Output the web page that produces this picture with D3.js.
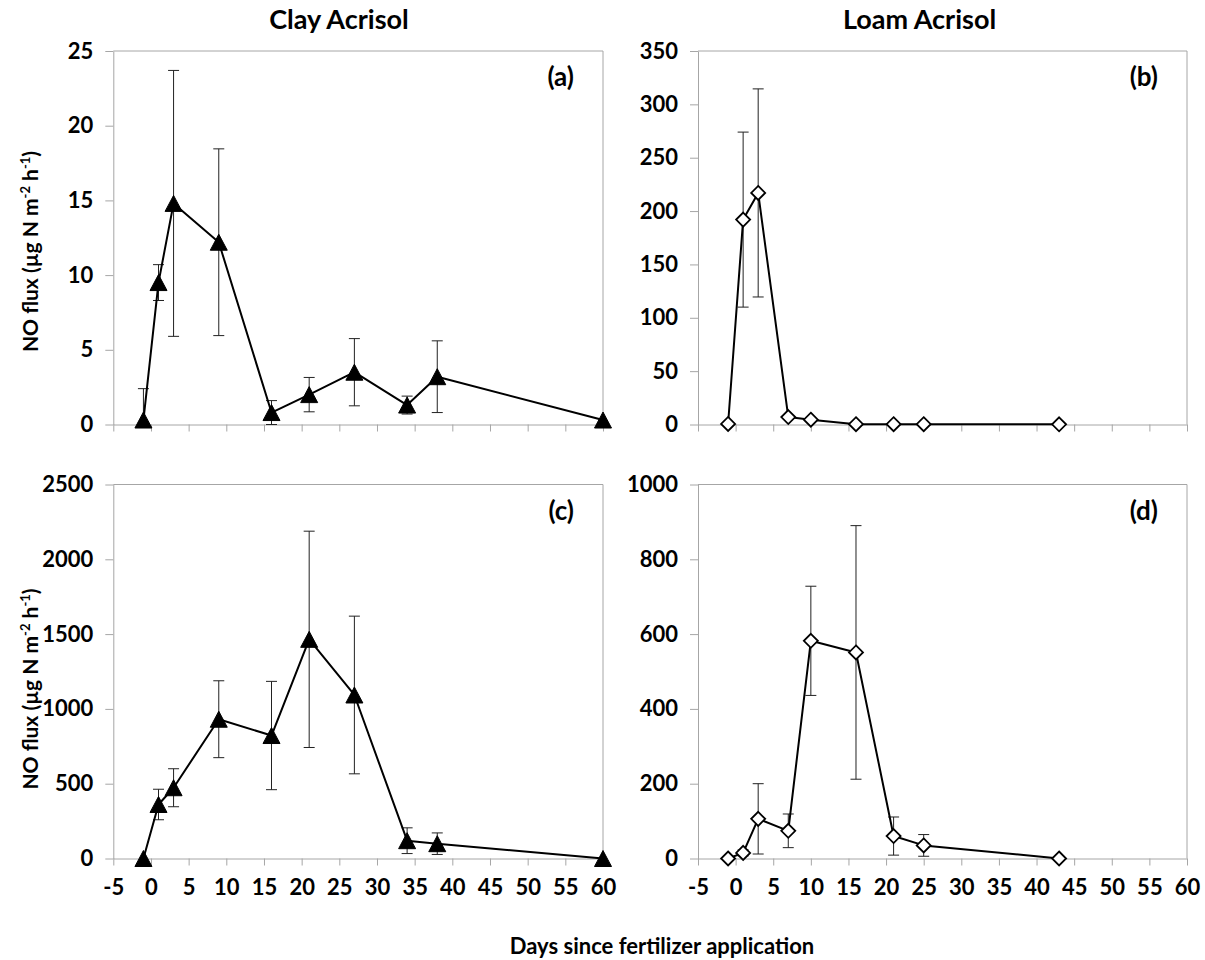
<!DOCTYPE html>
<html>
<head>
<meta charset="utf-8">
<script src="https://cdn.jsdelivr.net/npm/d3@7"></script>
<style>
  body { margin: 0; background: #fff; }
  svg { display: block; }
  text { font-family: Lato, "Open Sans", sans-serif; font-weight: 700; fill: #000; }
</style>
</head>
<body>
<svg id="chart" width="1205" height="960"></svg>
<script>
// Sampling days (days since fertilizer application)
const daysClay = [-1, 1, 3, 9, 16, 21, 27, 34, 38, 60];
const daysLoam = [-1, 1, 3, 7, 10, 16, 21, 25, 43];

// (a) Clay Acrisol, NO flux, first season
const fluxA = [0.3, 9.5, 14.8, 12.2, 0.8, 2.0, 3.5, 1.3, 3.2, 0.3];
const sdA   = [2.1, 1.2, 8.9, 6.25, 0.8, 1.15, 2.25, 0.6, 2.4, 0];

// (b) Loam Acrisol, NO flux, first season
const fluxB = [0.5, 192, 217, 7, 4.5, 0.3, 0.3, 0.3, 0.2];
const sdB   = [0, 82, 97.5, 0, 0, 0, 0, 0, 0];

// (c) Clay Acrisol, NO flux, second season
const fluxC = [0, 361, 473, 931, 822, 1465, 1093, 119, 99, 0];
const sdC   = [0, 102, 127, 257, 362, 723, 527, 86, 72, 0];

// (d) Loam Acrisol, NO flux, second season
const fluxD = [0, 15, 106, 74, 582, 551, 60, 35, 0];
const sdD   = [0, 8, 94, 45, 146, 339, 51, 29, 0];

// Tick labels
const dayTicks = [-5, 0, 5, 10, 15, 20, 25, 30, 35, 40, 45, 50, 55, 60];
const yTicksA = [0, 5, 10, 15, 20, 25];
const yTicksB = [0, 50, 100, 150, 200, 250, 300, 350];
const yTicksC = [0, 500, 1000, 1500, 2000, 2500];
const yTicksD = [0, 200, 400, 600, 800, 1000];

const columnTitles = ["Clay Acrisol", "Loam Acrisol"];
const panelLabels = ["(a)", "(b)", "(c)", "(d)"];
const xTitle = "Days since fertilizer application";

const svg = d3.select("#chart");
const AXIS = "#a6a6a6";
const plainNum = d => String(d);   // keeps the ASCII hyphen for negatives

// Custom marker shapes, centred on their bounding box
const triangleSym = {
  draw(ctx) {
    const w = 17, h = 16;
    ctx.moveTo(0, -h / 2);
    ctx.lineTo(w / 2, h / 2);
    ctx.lineTo(-w / 2, h / 2);
    ctx.closePath();
  }
};
const diamondSym = {
  draw(ctx) {
    const r = 7;
    ctx.moveTo(0, -r);
    ctx.lineTo(r, 0);
    ctx.lineTo(0, r);
    ctx.lineTo(-r, 0);
    ctx.closePath();
  }
};

const panels = [
  { left: 113.3, right: 603,  top: 51,    bottom: 424.5, days: daysClay, flux: fluxA, sd: sdA, yTicks: yTicksA, sym: "tri", xLabels: false, label: panelLabels[0] },
  { left: 698,   right: 1187, top: 51,    bottom: 424.5, days: daysLoam, flux: fluxB, sd: sdB, yTicks: yTicksB, sym: "dia", xLabels: false, label: panelLabels[1] },
  { left: 113.3, right: 603,  top: 484.5, bottom: 858.5, days: daysClay, flux: fluxC, sd: sdC, yTicks: yTicksC, sym: "tri", xLabels: true,  label: panelLabels[2] },
  { left: 698,   right: 1187, top: 484.5, bottom: 858.5, days: daysLoam, flux: fluxD, sd: sdD, yTicks: yTicksD, sym: "dia", xLabels: true,  label: panelLabels[3] }
];

panels.forEach(p => {
  const x = d3.scaleLinear().domain([dayTicks[0], dayTicks[dayTicks.length - 1]]).range([p.left, p.right]);
  const y = d3.scaleLinear().domain([p.yTicks[0], p.yTicks[p.yTicks.length - 1]]).range([p.bottom, p.top]);
  const g = svg.append("g");

  // frame: top and right edges
  g.append("line").attr("x1", p.left).attr("x2", p.right).attr("y1", p.top).attr("y2", p.top)
    .attr("stroke", AXIS).attr("stroke-width", 1);
  g.append("line").attr("x1", p.right).attr("x2", p.right).attr("y1", p.top).attr("y2", p.bottom)
    .attr("stroke", AXIS).attr("stroke-width", 1);

  // y axis
  const ya = g.append("g").attr("transform", `translate(${p.left},0)`)
    .call(d3.axisLeft(y).tickValues(p.yTicks).tickSize(8).tickSizeOuter(0).tickPadding(12).tickFormat(plainNum));
  // x axis
  const xa = g.append("g").attr("transform", `translate(0,${p.bottom})`)
    .call(d3.axisBottom(x).tickValues(dayTicks).tickSize(7).tickSizeOuter(0).tickPadding(14)
      .tickFormat(p.xLabels ? plainNum : () => ""));

  [ya, xa].forEach(a => {
    a.attr("font-family", null).attr("font-size", null);
    a.selectAll("path.domain").attr("stroke", AXIS).attr("stroke-width", 1);
    a.selectAll(".tick line").attr("stroke", AXIS).attr("stroke-width", 1);
    a.selectAll(".tick text").attr("fill", "#000").style("font-size", "22px");
  });

  // error bars
  const eb = g.append("g").attr("stroke", "#222").attr("stroke-width", 1);
  p.flux.forEach((v, i) => {
    if (!p.sd[i]) return;
    const cx = x(p.days[i]);
    const yHi = y(v + p.sd[i]);
    const yLo = y(Math.max(0, v - p.sd[i]));
    eb.append("line").attr("x1", cx).attr("x2", cx).attr("y1", yHi).attr("y2", yLo);
    eb.append("line").attr("x1", cx - 5.5).attr("x2", cx + 5.5).attr("y1", yHi).attr("y2", yHi);
    eb.append("line").attr("x1", cx - 5.5).attr("x2", cx + 5.5).attr("y1", yLo).attr("y2", yLo);
  });

  // series line
  const pts = p.days.map((d, i) => [d, p.flux[i]]);
  g.append("path")
    .attr("d", d3.line().x(d => x(d[0])).y(d => y(d[1]))(pts))
    .attr("fill", "none").attr("stroke", "#000").attr("stroke-width", 2).attr("stroke-linejoin", "round");

  // markers
  const sym = d3.symbol().type(p.sym === "tri" ? triangleSym : diamondSym);
  g.selectAll("path.mk").data(pts).enter().append("path")
    .attr("class", "mk")
    .attr("transform", d => `translate(${x(d[0])},${y(d[1])})`)
    .attr("d", sym())
    .attr("fill", p.sym === "tri" ? "#000" : "#fff")
    .attr("stroke", "#000")
    .attr("stroke-width", p.sym === "tri" ? 1 : 1.8);

  // panel label
  g.append("text").attr("x", p.right - 29).attr("y", p.top + 35)
    .attr("text-anchor", "end").style("font-size", "26px").text(p.label);
});

// column titles
[339, 919.5].forEach((cx, i) => {
  svg.append("text").attr("x", cx).attr("y", 29).attr("text-anchor", "middle")
    .style("font-size", "27px").text(columnTitles[i]);
});

// y axis titles
[251.5, 689].forEach(cy => {
  const t = svg.append("text")
    .attr("transform", `translate(38,${cy}) rotate(-90)`)
    .attr("text-anchor", "middle").style("font-size", "21px");
  t.append("tspan").text("NO flux (\u00b5g N m");
  t.append("tspan").attr("dy", -8).style("font-size", "13px").text("-2");
  t.append("tspan").attr("dy", 8).text(" h");
  t.append("tspan").attr("dy", -8).style("font-size", "13px").text("-1");
  t.append("tspan").attr("dy", 8).text(")");
});

// x axis title
svg.append("text").attr("x", 662).attr("y", 954).attr("text-anchor", "middle")
  .style("font-size", "22px").text(xTitle);
</script>
</body>
</html>
